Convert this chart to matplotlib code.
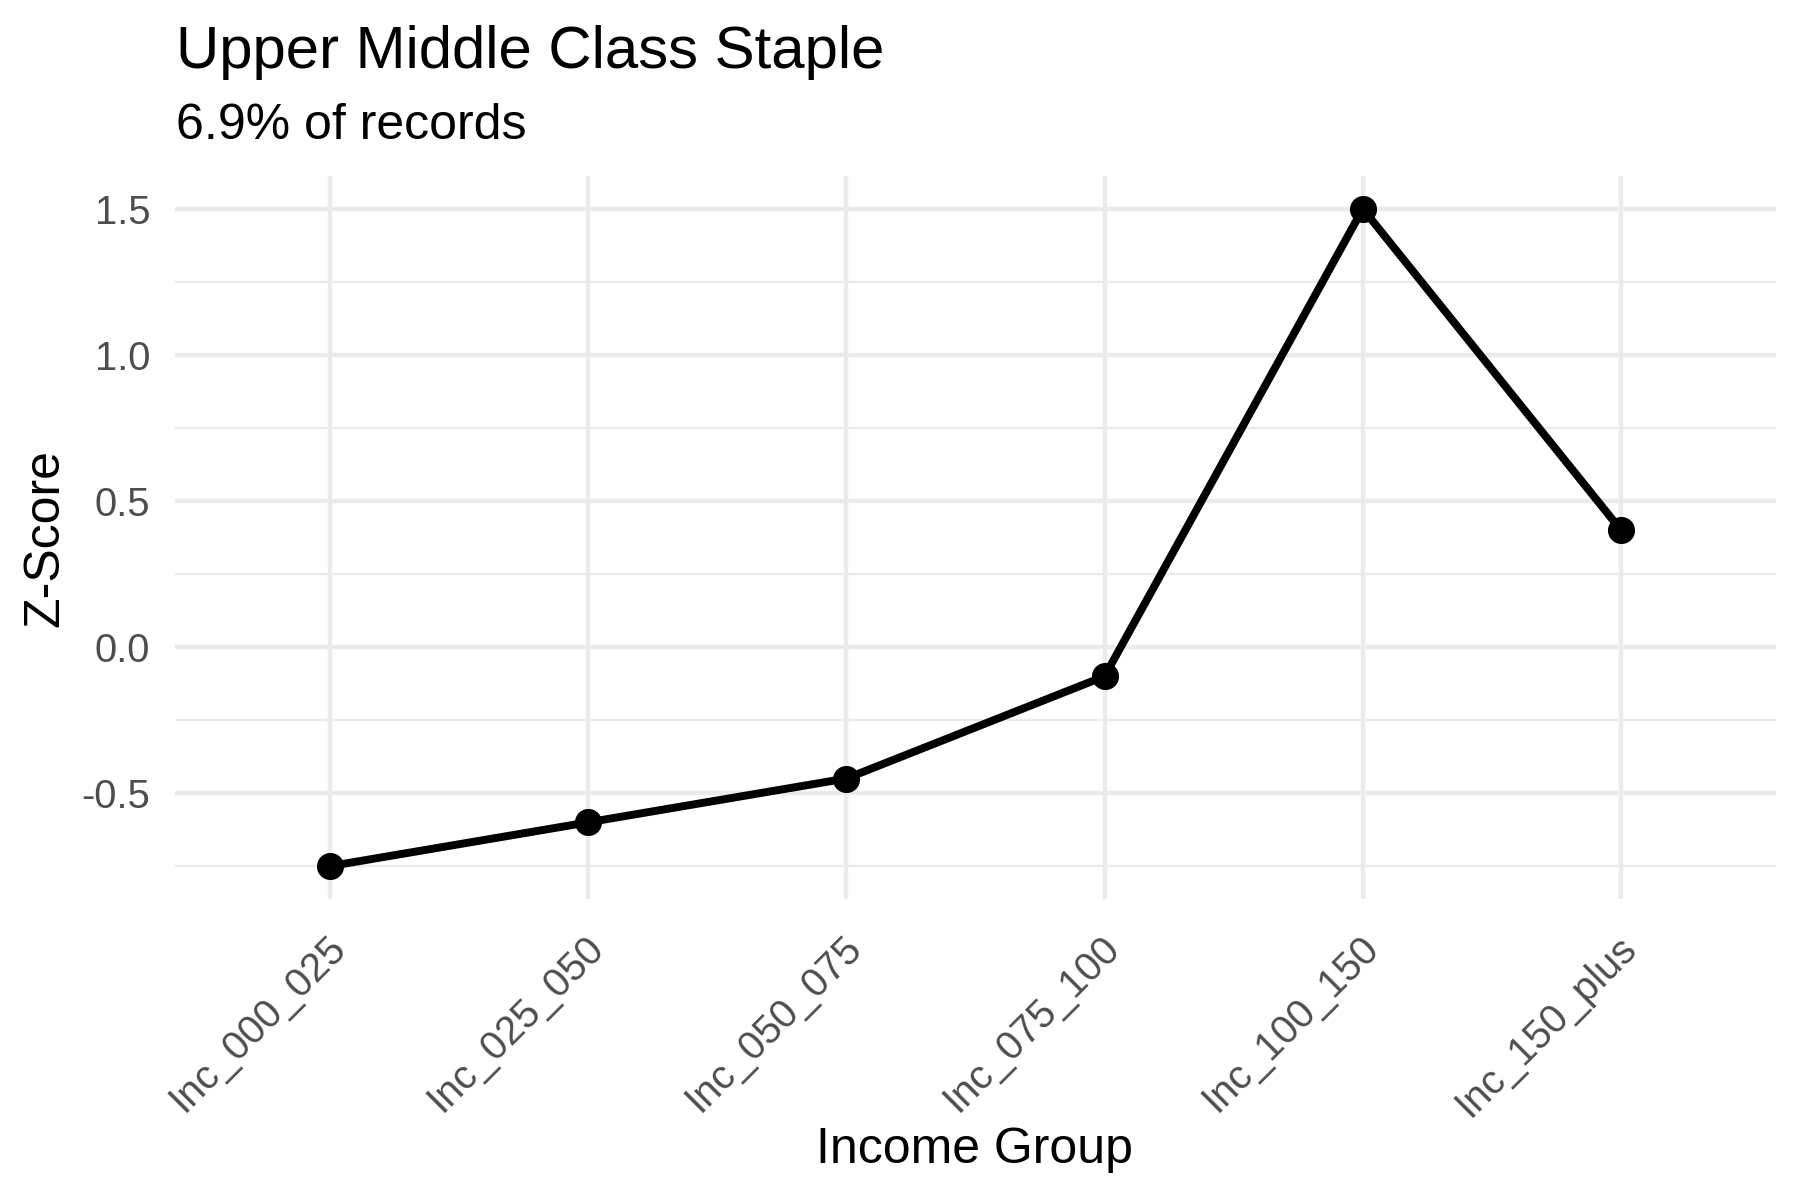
import numpy as np
import matplotlib
matplotlib.use("Agg")
import matplotlib.pyplot as plt
import matplotlib.transforms as mtransforms
from matplotlib.ticker import MultipleLocator

# data
income_groups = ["Inc_000_025", "Inc_025_050", "Inc_050_075",
                 "Inc_075_100", "Inc_100_150", "Inc_150_plus"]
z_scores = [-0.75, -0.60, -0.45, -0.10, 1.50, 0.40]

title = "Upper Middle Class Staple"
subtitle = "6.9% of records"
x_label = "Income Group"
y_label = "Z-Score"

plt.rcParams['font.family'] = ['Liberation Sans', 'DejaVu Sans']

grid_col = "#EBEBEB"
text_col = "#4D4D4D"

fig = plt.figure(figsize=(6, 4), dpi=300)
ax = fig.add_axes([175 / 1800, 1 - 899 / 1200, (1776 - 175) / 1800, (899 - 176) / 1200])

x = np.arange(len(income_groups))

# line + points
ax.plot(x, z_scores, color="black", lw=1.9, zorder=3, solid_joinstyle="round")
ax.plot(x, z_scores, "o", color="black", markersize=5.5, zorder=4)

# ggplot-style expansion: 0.6 units for discrete x, 5% for continuous y
ax.set_xlim(-0.6, len(income_groups) - 1 + 0.6)
rng = max(z_scores) - min(z_scores)
ax.set_ylim(min(z_scores) - 0.05 * rng, max(z_scores) + 0.05 * rng)

ax.set_xticks(x)
ax.set_xticklabels(income_groups)
ax.yaxis.set_major_locator(MultipleLocator(0.5))
ax.yaxis.set_minor_locator(MultipleLocator(0.25))
ax.yaxis.set_major_formatter(matplotlib.ticker.FormatStrFormatter("%.1f"))

# grid like theme_minimal
ax.grid(which="major", axis="both", color=grid_col, lw=1.07, zorder=0)
ax.grid(which="minor", axis="y", color=grid_col, lw=0.53, zorder=0)
ax.set_axisbelow(True)
for s in ax.spines.values():
    s.set_visible(False)

ax.tick_params(axis="both", which="both", length=0, colors=text_col, labelsize=9.6)
ax.tick_params(axis="y", pad=6)
ax.tick_params(axis="x", pad=2)

# rotated x labels, anchored at the top-right corner
offset = mtransforms.ScaledTranslation(-1 / 72, -5 / 72, fig.dpi_scale_trans)
for lab in ax.get_xticklabels():
    lab.set_rotation(45)
    lab.set_ha("right")
    lab.set_va("top")
    lab.set_rotation_mode("anchor")
    lab.set_transform(lab.get_transform() + offset)

# titles
fig.text(176 / 1800, 1 - 68 / 1200, title, fontsize=14.4, color="black",
         ha="left", va="baseline")
fig.text(176 / 1800, 1 - 139 / 1200, subtitle, fontsize=12, color="black",
         ha="left", va="baseline")
fig.text(975 / 1800, 1 - 1150 / 1200, x_label, fontsize=12, color="black",
         ha="center", va="center")
fig.text(45 / 1800, 1 - 538 / 1200, y_label, fontsize=12, color="black",
         ha="center", va="center", rotation=90)

fig.savefig("out.png", dpi=300, facecolor="white")
